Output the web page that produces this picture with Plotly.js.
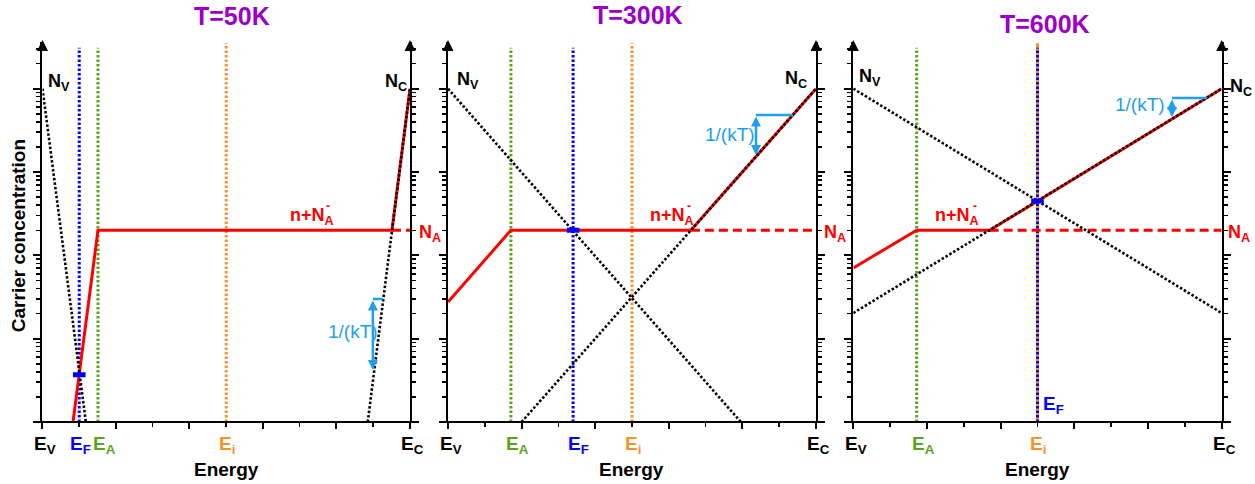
<!DOCTYPE html>
<html>
<head>
<meta charset="utf-8">
<script src="https://cdn.plot.ly/plotly-3.0.1.min.js"></script>
<style>html,body{margin:0;padding:0;background:#fff}</style>
</head>
<body>
<div id="chart" style="width:1255px;height:484px"></div>
<script>
// Energy runs from E_V (0) to E_C (1); concentrations on a log scale.
const temperatures = ['T=50K', 'T=300K', 'T=600K'];
const levelEA = [0.151, 0.171, 0.172];
const levelEF = [0.100, 0.340, 0.500];
const levelEi = [0.500, 0.500, 0.500];
const NA = 2e17;

// hole concentration p, starting at N_V on the valence band edge
const pE = [[0, 0.118], [0, 0.796], [0, 1]];
const pConc = [[1e19, 1e15], [1e19, 1e15], [1e19, 2.03e16]];
// electron concentration n, ending at N_C on the conduction band edge
const nE = [[0.885, 1], [0.200, 1], [0, 1]];
const nConc = [[1e15, 1e19], [1e15, 1e19], [2.03e16, 1e19]];
// negative charge n + N_A^-
const sumE = [[0.083, 0.151, 0.951, 1], [0, 0.171, 0.660, 1], [0, 0.172, 0.370, 1]];
const sumConc = [[1e15, 2e17, 2e17, 1e19], [2.75e16, 2e17, 2e17, 1e19], [7.05e16, 2e17, 2e17, 1e19]];
// N_A level continued where n dominates
const naDashE = [[0.951, 1], [0.660, 1], [0.370, 1]];
// charge neutrality point
const solE = [0.100, 0.340, 0.500];
const solConc = [3.7e15, 2e17, 4.5e17];
// 1/(kT) slope triangle
const kTx = [0.899, 0.837, 0.865];
const kTtop = [3.0e16, 4.83e18, 7.73e18];
const kTbot = [4.2e15, 1.6e18, 4.57e18];
const kTxEnd = [0.927, 0.9375, 0.960];

const FONT = 'Liberation Sans, Arial, Helvetica, sans-serif';
const COL = {blue: '#0000ff', green: '#5ba31f', orange: '#f7922a', red: '#ff0000',
             sky: '#1ea0ee', purple: '#9b00c8', black: '#000000'};
const domains = [[0.03386, 0.32669], [0.35697, 0.65020], [0.67992, 0.97347]];
const Y0 = 15, Y1 = 19.56;
const lg = Math.log10;

const traces = [];
const annotations = [];
const shapes = [];
const layout = {
  width: 1255, height: 484,
  margin: {l: 0, r: 0, t: 42, b: 62},
  paper_bgcolor: '#fff', plot_bgcolor: '#fff',
  showlegend: false,
  font: {family: FONT, color: '#000'}
};

function txt(o) {
  return Object.assign({showarrow: false, font: {family: FONT, size: 18, color: '#000'}}, o);
}

for (let i = 0; i < 3; i++) {
  const sfx = i === 0 ? '' : String(i + 1);
  const xa = 'x' + sfx, ya = 'y' + sfx;

  layout['xaxis' + sfx] = {
    domain: domains[i], range: [0, 1], anchor: ya, fixedrange: true,
    showline: false, showgrid: false, zeroline: false, showticklabels: false,
    ticks: 'outside', ticklen: 6, tickwidth: 2, tickcolor: '#000', tick0: 0, dtick: 0.2,
    minor: {ticks: 'outside', ticklen: 3.5, tickwidth: 1.5, tickcolor: '#000', tick0: 0, dtick: 0.1, showgrid: false}
  };
  layout['yaxis' + sfx] = {
    type: 'log', domain: [0, 1], range: [Y0, Y1], anchor: xa, fixedrange: true,
    showline: true, linewidth: 2, linecolor: '#000', mirror: 'ticks',
    showgrid: false, zeroline: false, showticklabels: false,
    ticks: 'outside', ticklen: 7, tickwidth: 2, tickcolor: '#000', dtick: 1,
    minor: {ticks: 'outside', ticklen: 4, tickwidth: 1.5, tickcolor: '#000', dtick: 'D1', showgrid: false}
  };

  // energy axis line, running slightly past both concentration axes
  shapes.push({type: 'line', xref: xa + ' domain', yref: ya + ' domain',
    x0: -0.0177, x1: 1.016, y0: 0, y1: 0, line: {color: '#000', width: 2}});

  // level lines E_i, E_A, E_F
  const vline = (x, top, color) => traces.push({
    x: [x, x], y: [1e15, top], xaxis: xa, yaxis: ya, mode: 'lines', hoverinfo: 'skip',
    line: {color: color, width: 3, dash: i === 2 && color === COL.orange ? 'solid' : '2.5px,2px'}
  });
  vline(levelEi[i], 3.5e19, COL.orange);
  vline(levelEA[i], 3.1e19, COL.green);
  vline(levelEF[i], 3.1e19, COL.blue);

  // n + N_A^-
  traces.push({x: sumE[i], y: sumConc[i], xaxis: xa, yaxis: ya, mode: 'lines',
    line: {color: COL.red, width: 3}, hoverinfo: 'skip'});
  traces.push({x: naDashE[i], y: [NA, NA], xaxis: xa, yaxis: ya, mode: 'lines',
    line: {color: COL.red, width: 3, dash: '9px,5px'}, hoverinfo: 'skip'});

  // p and n
  traces.push({x: pE[i], y: pConc[i], xaxis: xa, yaxis: ya, mode: 'lines',
    line: {color: COL.black, width: 2.6, dash: '2.5px,2px'}, hoverinfo: 'skip'});
  traces.push({x: nE[i], y: nConc[i], xaxis: xa, yaxis: ya, mode: 'lines',
    line: {color: COL.black, width: 2.6, dash: '2.5px,2px'}, hoverinfo: 'skip'});

  // slope triangle: horizontal leg plus double-headed arrow
  traces.push({x: [kTx[i], kTxEnd[i]], y: [kTtop[i], kTtop[i]], xaxis: xa, yaxis: ya, mode: 'lines',
    line: {color: COL.sky, width: 2.5}, hoverinfo: 'skip'});
  annotations.push({xref: xa, yref: ya, axref: xa, ayref: ya,
    x: kTx[i], y: lg(kTbot[i]), ax: kTx[i], ay: lg(kTtop[i]),
    text: '', showarrow: true, arrowside: 'end+start', arrowhead: 2, arrowsize: 0.8,
    arrowwidth: 2.5, arrowcolor: COL.sky});

  // neutrality point
  traces.push({x: [solE[i]], y: [solConc[i]], xaxis: xa, yaxis: ya, mode: 'markers',
    marker: {symbol: 'line-ew', size: 9, line: {width: 5, color: COL.blue}}, hoverinfo: 'skip'});

  // arrowheads on the concentration axes
  [0, 1].forEach(xv => annotations.push({xref: xa, yref: ya + ' domain', x: xv, y: 1, yshift: 2,
    ax: 0, ay: 12, text: '', showarrow: true, arrowhead: 2, arrowsize: 1.1, arrowwidth: 2, arrowcolor: '#000'}));

  // panel title
  annotations.push(txt({xref: xa + ' domain', yref: 'paper', x: 0.5, y: 1,
    xshift: [6, 6.5, 7.5][i], yshift: [26.5, 27, 18][i], yanchor: 'middle',
    text: '<b>' + temperatures[i] + '</b>', font: {family: FONT, size: 25, color: COL.purple}}));

  // energy axis title
  annotations.push(txt({xref: xa + ' domain', yref: 'paper', x: 0.5, y: 0, yshift: -47,
    yanchor: 'middle', text: '<b>Energy</b>', font: {family: FONT, size: 19, color: '#000'}}));

  // level labels under the energy axis
  const elab = (x, sub, color, shift) => annotations.push(txt({xref: xa, yref: 'paper', x: x, y: 0,
    yanchor: 'top', yshift: -9, xshift: shift, text: '<b>E<sub>' + sub + '</sub></b>',
    font: {family: FONT, size: 19, color: color}}));
  elab(0, 'V', '#000', 3);
  elab(1, 'C', '#000', 3);
  elab(levelEA[i], 'A', COL.green, 7);
  elab(levelEi[i], 'i', COL.orange, 1);
  if (i < 2) {
    elab(levelEF[i], 'F', COL.blue, [1, 5][i]);
  } else {
    annotations.push(txt({xref: xa, yref: 'paper', x: levelEF[i], y: 0, xanchor: 'left', yanchor: 'bottom',
      xshift: 4, yshift: 3, text: '<b>E<sub>F</sub></b>', font: {family: FONT, size: 19, color: COL.blue}}));
  }

  // N_V and N_C
  annotations.push(txt({xref: xa, yref: ya, x: 0, y: lg(pConc[i][0]), xanchor: 'left',
    xshift: [4, 7, 4][i], yshift: [6, 8, 11][i], text: '<b>N<sub>V</sub></b>'}));
  annotations.push(txt(i < 2
    ? {xref: xa, yref: ya, x: 1, y: lg(nConc[i][1]), xanchor: 'right', xshift: [-1, -7][i], yshift: [6, 9][i], text: '<b>N<sub>C</sub></b>'}
    : {xref: xa, yref: ya, x: 1, y: lg(nConc[i][1]), xanchor: 'left', xshift: 6, yshift: 1, text: '<b>N<sub>C</sub></b>'}));

  // N_A at the right edge
  annotations.push(txt({xref: xa, yref: ya, x: 1, y: lg(NA), xanchor: 'left',
    xshift: [7, 6, 4][i], yshift: -3, text: '<b>N<sub>A</sub></b>', font: {family: FONT, size: 18, color: COL.red}}));

  // n + N_A^- label
  const lblX = [0.6684, 0.5435, 0.2163][i];
  annotations.push(txt({xref: xa, yref: ya, x: lblX, y: lg(NA), xanchor: 'left', yshift: 14,
    text: '<b>n+N<sub>A</sub></b>', font: {family: FONT, size: 18, color: COL.red}}));
  annotations.push(txt({xref: xa, yref: ya, x: lblX, y: lg(NA), xanchor: 'center',
    xshift: [40, 41, 42][i], yshift: 24, text: '<b>-</b>', font: {family: FONT, size: 12, color: COL.red}}));

  // 1/(kT) label
  annotations.push(txt({xref: xa, yref: ya, x: kTx[i], y: (lg(kTtop[i]) + lg(kTbot[i])) / 2,
    xanchor: 'center', xshift: [-20, -26, -32][i], yshift: [3, 1, 3.5][i],
    text: '1/(kT)', font: {family: FONT, size: 19, color: COL.sky}}));
}

// concentration axis title
annotations.push(txt({xref: 'paper', yref: 'paper', x: 18 / 1255, y: 0.489, xanchor: 'center', yanchor: 'middle',
  textangle: -90, text: '<b>Carrier concentration</b>', font: {family: FONT, size: 19, color: '#000'}}));

layout.annotations = annotations;
layout.shapes = shapes;

Plotly.newPlot('chart', traces, layout, {staticPlot: true, displayModeBar: false});
</script>
</body>
</html>
